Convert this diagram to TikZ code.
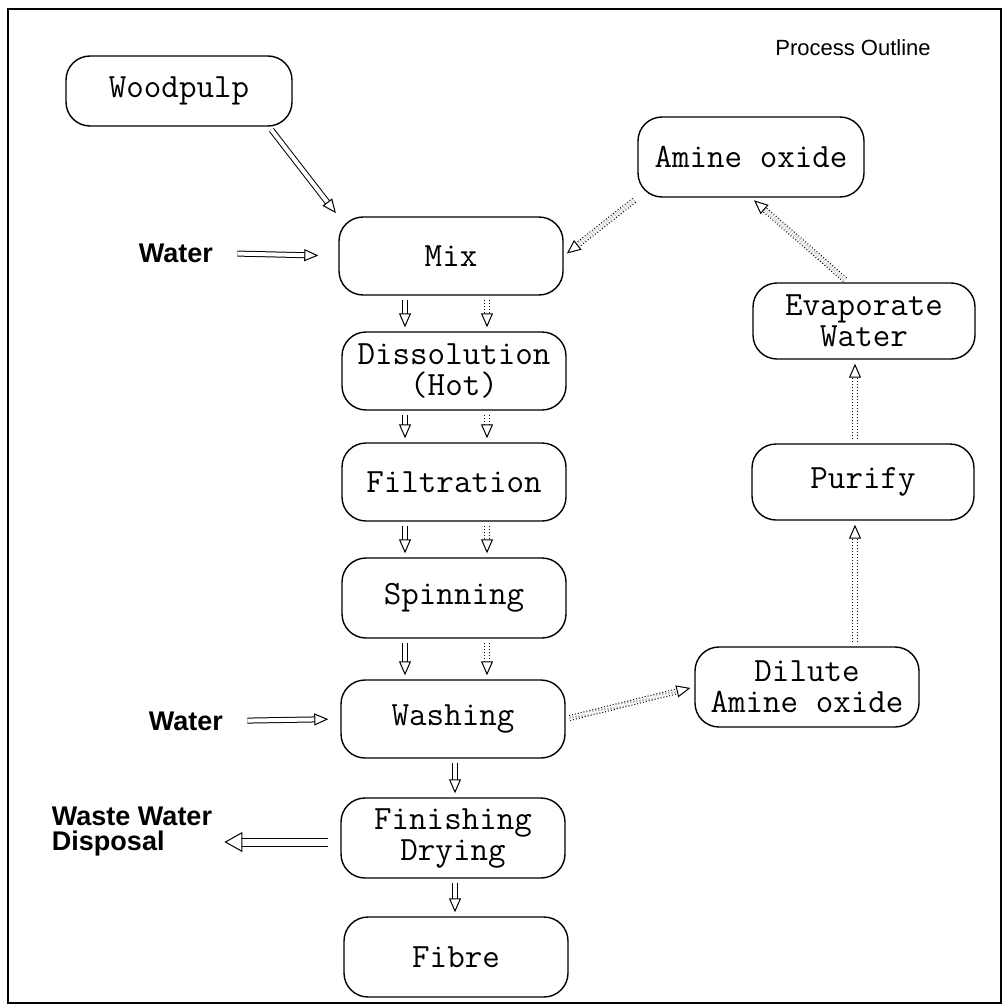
\documentclass[tikz,border=0pt]{standalone}
\usepackage{fontspec}
\setmainfont{Liberation Sans}
\usetikzlibrary{arrows.meta}

\tikzset{
  stage/.style={draw, rounded corners=12pt, line width=0.7pt, align=center, inner sep=0pt,
    minimum width=112pt, minimum height=39pt, font=\ttfamily\fontsize{17}{15.5}\selectfont},
  feed/.style={font=\bfseries\fontsize{13.5}{12.5}\selectfont, align=left, inner sep=0pt},
  pipe/.style={double, double distance=2pt, line width=0.5pt,
    -{Triangle[open, length=7pt, width=6pt]}, shorten <=2pt, shorten >=2pt},
  recycle/.style={pipe, densely dotted},
  outlet/.style={double, double distance=3.5pt, line width=0.5pt,
    -{Triangle[open, length=9pt, width=10pt]}, shorten <=6pt, shorten >=6pt},
}

\begin{document}
\begin{tikzpicture}[x=0.5pt, y=-0.5pt]
  \useasboundingbox (0,0) rectangle (1004,1006);
  \draw[line width=1pt] (8,9) rectangle (1001,1003);

  % title and feeds
  \node[font=\fontsize{11}{13}\selectfont] (title) at (853,48) {Process Outline};
  \node[feed] (water1) at (176,253) {Water};
  \node[feed] (water2) at (186,721) {Water};
  \node[feed] (waste) at (132,832) {Waste Water\\Disposal};

  % main line
  \node[stage, minimum width=113pt, minimum height=35pt] (wood) at (179,91) {Woodpulp};
  \node[stage] (mix) at (451,256) {Mix};
  \node[stage] (diss) at (454,371) {Dissolution\\(Hot)};
  \node[stage] (filt) at (454,482) {Filtration};
  \node[stage, minimum height=40pt] (spin) at (454,598) {Spinning};
  \node[stage] (wash) at (453,719) {Washing};
  \node[stage, minimum height=40pt] (finish) at (453,838) {Finishing\\Drying};
  \node[stage, minimum height=40pt] (fibre) at (456,957) {Fibre};

  % recovery loop
  \node[stage, minimum width=113pt, minimum height=40pt] (amine) at (751,157) {Amine oxide};
  \node[stage, minimum width=111pt, minimum height=38pt] (evap) at (864,321) {Evaporate\\Water};
  \node[stage, minimum width=111pt, minimum height=38pt] (purify) at (863,482) {Purify};
  \node[stage, minimum width=112pt, minimum height=40pt] (dilute) at (807,687) {Dilute\\Amine oxide};

  \coordinate (solid) at (405,0);
  \coordinate (dots) at (487,0);
  \coordinate (mid) at (455,0);
  \coordinate (back) at (855,0);

  \draw[pipe] ([xshift=45pt]wood.south) -- (mix.north west);
  \draw[pipe, shorten <=12pt, shorten >=10pt] (water1.east) -- (mix.west);
  \draw[pipe, shorten <=12pt, shorten >=6pt] (water2.east) -- (wash.west);

  \draw[pipe] (mix.south -| solid) -- (diss.north -| solid);
  \draw[pipe] (diss.south -| solid) -- (filt.north -| solid);
  \draw[pipe] (filt.south -| solid) -- (spin.north -| solid);
  \draw[pipe] (spin.south -| solid) -- (wash.north -| solid);
  \draw[pipe] (wash.south -| mid) -- (finish.north -| mid);
  \draw[pipe] (finish.south -| mid) -- (fibre.north -| mid);
  \draw[outlet] ([yshift=-2pt]finish.west) -- ([yshift=-2pt]finish.west -| waste.east);

  \draw[recycle] (mix.south -| dots) -- (diss.north -| dots);
  \draw[recycle] (diss.south -| dots) -- (filt.north -| dots);
  \draw[recycle] (filt.south -| dots) -- (spin.north -| dots);
  \draw[recycle] (spin.south -| dots) -- (wash.north -| dots);
  \draw[recycle] (wash.east) -- (dilute.west);
  \draw[recycle] (dilute.north -| back) -- (purify.south -| back);
  \draw[recycle] (purify.north -| back) -- (evap.south -| back);
  \draw[recycle] ([xshift=-8pt]evap.north) -- (amine.south);
  \draw[recycle] (amine.south west) -- (mix.east);
\end{tikzpicture}
\end{document}
